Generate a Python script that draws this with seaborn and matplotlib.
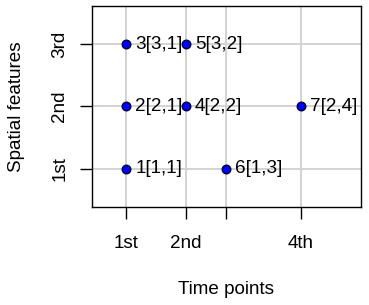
import matplotlib
matplotlib.use("Agg")
import matplotlib.pyplot as plt
import seaborn as sns
import pandas as pd

# Data
point_ids = [1, 2, 3, 4, 5, 6, 7]
spatial_idx = [1, 2, 3, 2, 3, 1, 2]
time_idx = [1, 1, 1, 2, 2, 3, 4]
time_positions = [1.0, 2.0, 2.667, 3.917]   # x positions of time points 1..4
time_labels = ["1st", "2nd", "", "4th"]
spatial_positions = [1, 2, 3]
spatial_labels = ["1st", "2nd", "3rd"]

df = pd.DataFrame({
    "id": point_ids,
    "s": spatial_idx,
    "t": time_idx,
})
df["x"] = [time_positions[t - 1] for t in df["t"]]
df["y"] = [spatial_positions[s - 1] for s in df["s"]]
df["label"] = [f"{i}[{s},{t}]" for i, s, t in zip(df["id"], df["s"], df["t"])]

sns.set_style("white")
plt.rcParams["font.family"] = ["Liberation Sans", "DejaVu Sans"]
plt.rcParams["text.color"] = "black"
plt.rcParams["axes.labelcolor"] = "black"
plt.rcParams["xtick.color"] = "black"
plt.rcParams["ytick.color"] = "black"

FS = 13.6

fig = plt.figure(figsize=(3.69, 3.05), dpi=100)
ax = fig.add_axes([92 / 369, 1 - 207 / 305, (361 - 92) / 369, (207 - 6) / 305])

for xv in time_positions:
    ax.axvline(xv, color="#D3D3D3", lw=1.4, zorder=0)
for yv in spatial_positions:
    ax.axhline(yv, color="#D3D3D3", lw=1.4, zorder=0)

for _, r in df.iterrows():
    ax.annotate(r["label"], (r["x"], r["y"]), xytext=(9, 0), textcoords="offset pixels",
                va="center", ha="left", fontsize=FS, color="black", zorder=2)

sns.scatterplot(data=df, x="x", y="y", ax=ax, s=38, color="#0000FF",
                edgecolor="#000033", linewidth=1.0, zorder=3, legend=False)

ax.set_xlim(0.43, 4.92)
ax.set_ylim(0.39, 3.61)
ax.set_xticks(time_positions)
ax.set_xticklabels(time_labels, fontsize=FS)
ax.set_yticks(spatial_positions)
ax.set_yticklabels(spatial_labels, fontsize=FS, rotation=90, va="center")
ax.tick_params(axis="both", direction="out", length=8.6, width=1.0, color="black",
               labelcolor="black", bottom=True, left=True)
ax.tick_params(axis="x", pad=11.5)
ax.tick_params(axis="y", pad=8.5)
for sp in ax.spines.values():
    sp.set_color("black")
    sp.set_linewidth(1.0)
ax.set_xlabel("Time points", fontsize=FS, labelpad=21, color="black")
ax.set_ylabel("Spatial features", fontsize=FS, labelpad=19, color="black")

fig.savefig("out.png", dpi=100)
